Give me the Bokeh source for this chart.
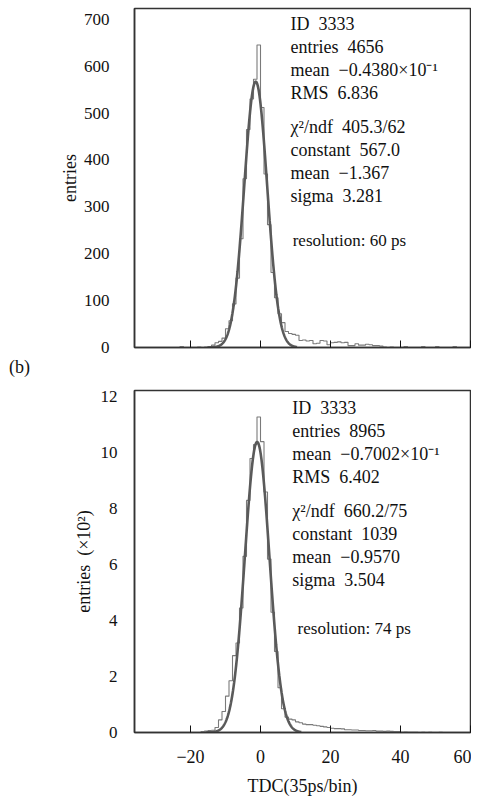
import numpy as np
from bokeh.plotting import figure
from bokeh.layouts import column
from bokeh.models import Label, FixedTicker, Range1d, Div
from bokeh.embed import file_html
from bokeh.resources import INLINE

# ---------------- data ----------------
BIN_START = -24  # left edge of first bin; bins are 1 TDC unit wide

# panel (a): counts per bin, bins [-24,-23) ... [59,60)
top_counts = [0, 2, 0, 0, 0, 0, 1, 0, 1, 2,
              5, 10, 13, 20, 40, 57, 93, 148, 232, 360,
              465, 530, 572, 645, 512, 370, 262, 160, 106, 72,
              53, 34, 30, 28, 26, 15, 16, 14, 15, 8,
              9, 15, 14, 6, 10, 11, 12, 10, 11, 4,
              4, 8, 5, 5, 7, 6, 4, 4, 3, 1,
              0, 1, 0, 0, 0, 2, 0, 0, 0, 0,
              2, 0, 0, 0, 2, 0, 0, 0, 0, 2,
              0, 0, 0, 0]

# panel (b): counts per bin in units of 10^2, same bins
bot_counts = [0, 0, 0, 0, 0, 0, 0, 0.03, 0.05, 0.07,
              0.08, 0.18, 0.45, 0.75, 1.3, 1.85, 2.75, 3.2, 4.45, 6.3,
              8.3, 9.8, 10.3, 11.28, 10.4, 8.6, 6.2, 4.3, 2.9, 1.6,
              0.85, 0.55, 0.48, 0.45, 0.38, 0.35, 0.3, 0.28, 0.28, 0.26,
              0.24, 0.22, 0.2, 0.18, 0.15, 0.14, 0.14, 0.13, 0.1, 0.1,
              0.09, 0.09, 0.07, 0.07, 0.06, 0.06, 0.07, 0.05, 0.05, 0.04,
              0.05, 0.04, 0.03, 0.03, 0.01, 0.02, 0.01, 0.01, 0.01, 0.0,
              0.01, 0.0, 0.01, 0.0, 0.0, 0.01, 0.0, 0.0, 0.0, 0.0,
              0.0, 0.0, 0.0, 0.0]

# Gaussian fit parameters (constant, mean, sigma)
top_fit = (567.0, -1.367, 3.281)
bot_fit = (10.39, -0.9570, 3.504)

SP = "\u00a0\u00a0"
top_stats = ["ID" + SP + "3333", "entries" + SP + "4656",
             "mean" + SP + "\u22120.4380\u00d710\u207b\u00b9", "RMS" + SP + "6.836"]
top_fitstats = ["\u03c7\u00b2/ndf" + SP + "405.3/62", "constant" + SP + "567.0",
                "mean" + SP + "\u22121.367", "sigma" + SP + "3.281"]
top_res = "resolution:\u00a060\u00a0ps"

bot_stats = ["ID" + SP + "3333", "entries" + SP + "8965",
             "mean" + SP + "\u22120.7002\u00d710\u207b\u00b9", "RMS" + SP + "6.402"]
bot_fitstats = ["\u03c7\u00b2/ndf" + SP + "660.2/75", "constant" + SP + "1039",
                "mean" + SP + "\u22120.9570", "sigma" + SP + "3.504"]
bot_res = "resolution:\u00a074\u00a0ps"

panel_tag = "(b)"

x_ticks = [-20, 0, 20, 40, 60]
top_yticks = [0, 100, 200, 300, 400, 500, 600, 700]
bot_yticks = [0, 2, 4, 6, 8, 10, 12]

FONT = "Liberation Serif"
AX = "#333333"
TXT = "#111111"


def make_panel(counts, fit, stats, fitstats, res, ymax, yticks, ylabel,
               height, border_top, border_bottom, show_xlabels,
               ylab_standoff, yaxis_standoff, stats_x, stats_y, res_x, res_y):
    p = figure(width=471, height=height, output_backend="svg", toolbar_location=None,
               x_range=Range1d(-36, 60), y_range=Range1d(0, ymax),
               min_border_left=134, min_border_right=1,
               min_border_top=border_top, min_border_bottom=border_bottom)
    p.grid.visible = False
    p.outline_line_color = AX
    p.outline_line_width = 1.5
    p.background_fill_color = "white"
    p.border_fill_color = "white"

    # histogram as steps
    edges = list(range(BIN_START, BIN_START + len(counts) + 1))
    ys = list(counts) + [counts[-1]]
    p.step(edges, ys, mode="after", line_color="#7a7a7a", line_width=1.1)

    # Gaussian fit curve from its parameters
    c, m, s = fit
    xs = np.linspace(m - 4.2 * s, m + 3.6 * s, 400)
    p.line(xs, c * np.exp(-0.5 * ((xs - m) / s) ** 2), line_color="#5a5a5a", line_width=2.6)

    xa = p.xaxis[0]
    xa.ticker = FixedTicker(ticks=x_ticks)
    xa.major_tick_in = 7
    xa.major_tick_out = 0
    xa.minor_tick_line_color = None
    xa.axis_line_color = AX
    xa.axis_line_width = 1.5
    xa.major_tick_line_color = TXT
    xa.major_label_text_font = FONT
    xa.major_label_text_color = TXT
    if show_xlabels:
        xa.major_label_overrides = {-20: "\u221220"}
        xa.major_label_text_font_size = "18px"
        xa.major_label_standoff = 17
        xa.axis_label = "TDC(35ps/bin)"
        xa.axis_label_text_font = FONT
        xa.axis_label_text_font_style = "normal"
        xa.axis_label_text_font_size = "18px"
        xa.axis_label_text_color = TXT
        xa.axis_label_standoff = 10
    else:
        xa.major_label_overrides = {t: "" for t in x_ticks}
        xa.major_label_text_font_size = "0px"
        xa.major_label_standoff = 0

    ya = p.yaxis[0]
    ya.ticker = FixedTicker(ticks=yticks)
    ya.major_tick_line_color = None
    ya.minor_tick_line_color = None
    ya.axis_line_color = AX
    ya.axis_line_width = 1.5
    ya.major_label_text_font = FONT
    ya.major_label_text_font_size = "17px"
    ya.major_label_text_color = TXT
    ya.major_label_standoff = yaxis_standoff
    ya.axis_label = ylabel
    ya.axis_label_text_font = FONT
    ya.axis_label_text_font_style = "normal"
    ya.axis_label_text_font_size = "18px"
    ya.axis_label_text_color = TXT
    ya.axis_label_standoff = ylab_standoff

    lines = stats + fitstats
    for i, t in enumerate(lines):
        off = -23 * i - (11 if i >= len(stats) else 0)
        p.add_layout(Label(x=stats_x, y=stats_y, y_offset=off, text=t,
                           text_font=FONT, text_font_size="18px", text_color=TXT,
                           text_baseline="middle", text_align="left"))
    p.add_layout(Label(x=res_x, y=res_y, text=res, text_font=FONT,
                       text_font_size="17px", text_color=TXT,
                       text_baseline="middle", text_align="left"))
    return p


top = make_panel(top_counts, top_fit, top_stats, top_fitstats, top_res,
                 723, top_yticks, "entries", 357, 8, 10, False,
                 1, 19, 8.6, 691, 9.2, 229)

tag = Div(text=panel_tag, width=60, height=20, margin=(0, 0, 0, 0),
          styles={"font-family": FONT, "font-size": "18px", "line-height": "20px",
                  "color": TXT, "padding-left": "9px"})

bot = make_panel(bot_counts, bot_fit, bot_stats, bot_fitstats, bot_res,
                 12.23, bot_yticks, "entries\u00a0\u00a0(\u00d710\u00b2)", 421, 13, 63, True,
                 4, 11, 9.1, 11.6, 10.6, 3.72)

layout = column(top, tag, bot, spacing=0)
open("out.html", "w").write(file_html(layout, INLINE))
